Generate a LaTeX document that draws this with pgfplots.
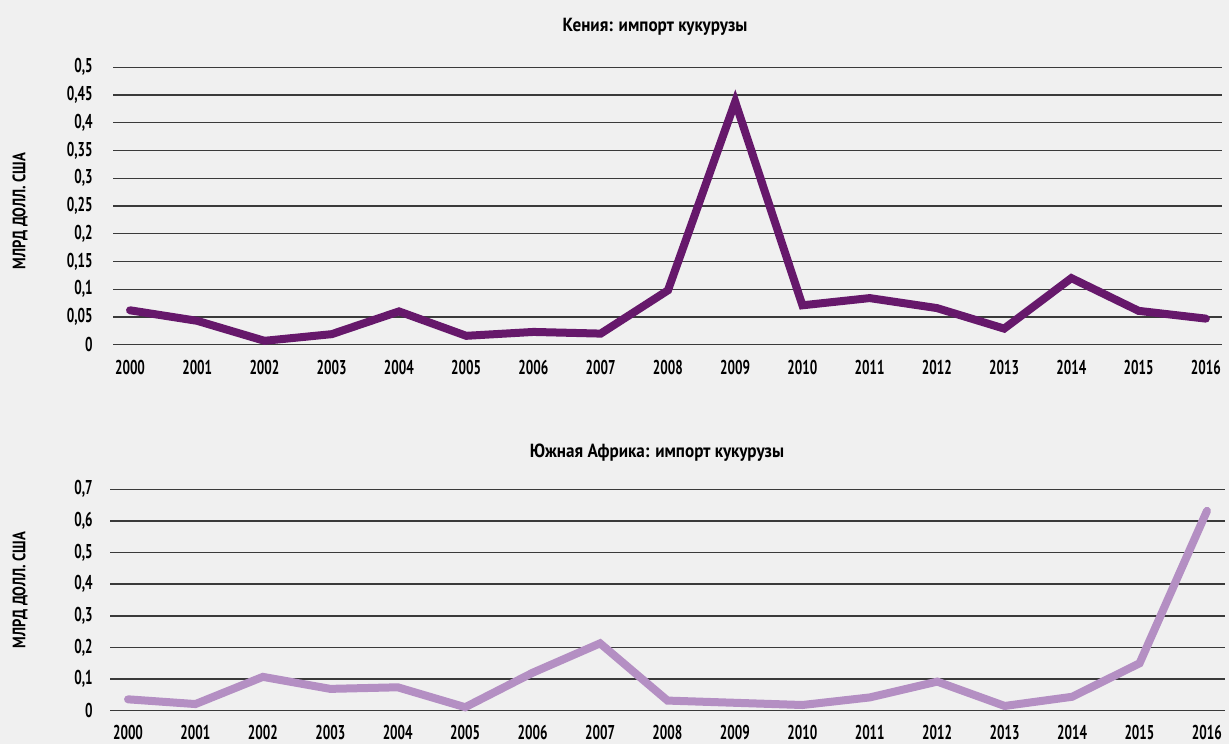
\documentclass[border=0pt]{standalone}
\usepackage{fontspec}
\setmainfont{PT Sans}[FakeStretch=0.72]
\newfontfamily\tickfont{PT Sans}[FakeStretch=0.66]
\newfontfamily\titlefont{PT Sans}[FakeStretch=0.9]
\newfontfamily\unitfont{PT Sans}[FakeStretch=0.81]
\usepackage{pgfplots}
\pgfplotsset{compat=1.18}

\definecolor{bgcol}{HTML}{F0F0F0}
\definecolor{kenya}{HTML}{66186B}
\definecolor{safrica}{HTML}{B48FC3}
\definecolor{gridcol}{HTML}{3A3A3A}

\pgfplotstableread{
year value
2000 0.062
2001 0.043
2002 0.007
2003 0.019
2004 0.060
2005 0.016
2006 0.023
2007 0.020
2008 0.098
2009 0.438
2010 0.071
2011 0.084
2012 0.066
2013 0.029
2014 0.120
2015 0.061
2016 0.047
}\kenyadata

\pgfplotstableread{
year value
2000 0.036
2001 0.021
2002 0.107
2003 0.069
2004 0.074
2005 0.011
2006 0.120
2007 0.213
2008 0.032
2009 0.025
2010 0.018
2011 0.042
2012 0.092
2013 0.015
2014 0.044
2015 0.150
2016 0.632
}\safricadata

\pgfplotsset{
  panel/.style={
    scale only axis,
    anchor=south west,
    axis line style={draw=none},
    major tick length=0pt,
    ymajorgrids,
    grid style={gridcol, line width=0.7pt},
    xtick={2000,...,2016},
    xticklabels={2000,2001,2002,2003,2004,2005,2006,2007,2008,2009,2010,2011,2012,2013,2014,2015,2016},
    ymin=0,
    tick label style={font=\tickfont\bfseries\fontsize{10}{12}\selectfont, inner sep=0pt},
    clip=false,
  },
}

\begin{document}
\begin{tikzpicture}
\fill[bgcol] (0,0) rectangle (614.5pt,372pt);

% Kenya
\node[font=\titlefont\bfseries\fontsize{9.5}{11}\selectfont] at (327.5pt,358.5pt) {Кения: импорт кукурузы};
\node[rotate=90, font=\unitfont\bfseries\fontsize{9}{10}\selectfont] at (10pt,266.5pt) {МЛРД ДОЛЛ. США};
\begin{axis}[panel,
  at={(56.5pt,199.65pt)},
  width=554.5pt, height=138.7pt,
  xmin=1999.747, xmax=2016.24,
  ymax=0.5,
  ytick={0,0.05,0.1,0.15,0.2,0.25,0.3,0.35,0.4,0.45,0.5},
  yticklabels={0,{0,05},{0,1},{0,15},{0,2},{0,25},{0,3},{0,35},{0,4},{0,45},{0,5}},
  yticklabel style={anchor=east, xshift=-10pt},
  xticklabel style={anchor=north, yshift=-7.5pt},
]
\addplot[kenya, line width=4pt, line cap=round, line join=miter] table[x=year, y=value] {\kenyadata};
\end{axis}

% South Africa
\node[font=\titlefont\bfseries\fontsize{9.5}{11}\selectfont] at (328.5pt,145.6pt) {Южная Африка: импорт кукурузы};
\node[rotate=90, font=\unitfont\bfseries\fontsize{9}{10}\selectfont] at (10pt,77pt) {МЛРД ДОЛЛ. США};
\begin{axis}[panel,
  at={(55pt,16.65pt)},
  width=557.5pt, height=110.7pt,
  xmin=1999.733, xmax=2016.267,
  ymax=0.7,
  ytick={0,0.1,0.2,0.3,0.4,0.5,0.6,0.7},
  yticklabels={0,{0,1},{0,2},{0,3},{0,4},{0,5},{0,6},{0,7}},
  yticklabel style={anchor=east, xshift=-8.5pt},
  xticklabel style={anchor=north, yshift=-7pt},
]
\addplot[safrica, line width=4pt, line cap=round, line join=miter] table[x=year, y=value] {\safricadata};
\end{axis}
\end{tikzpicture}
\end{document}
